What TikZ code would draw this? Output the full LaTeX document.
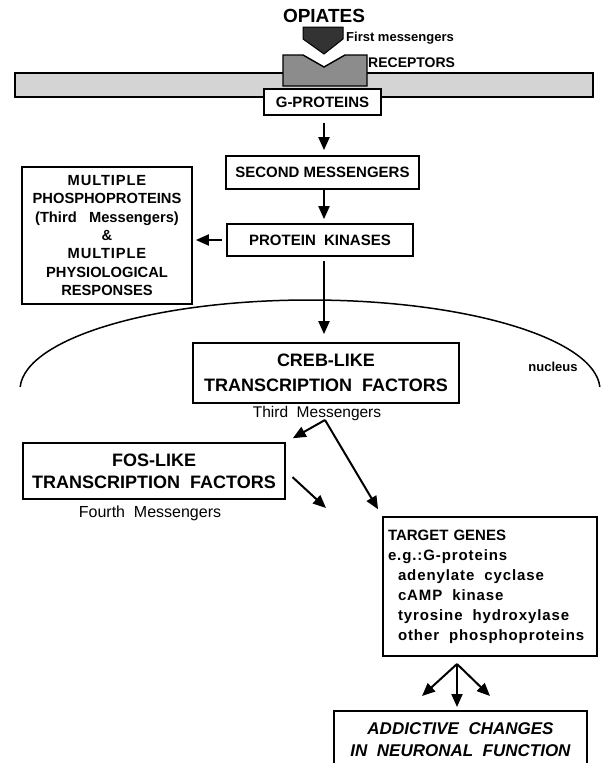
\documentclass[tikz,border=0pt]{standalone}
\usepackage{fontspec}
\setmainfont{Liberation Sans}
\newfontfamily\spc[LetterSpace=6]{Liberation Sans}
\usetikzlibrary{arrows.meta}
\begin{document}
\begin{tikzpicture}[x=1pt,y=-1pt,
  box/.style={draw, line width=1.7pt, fill=white, inner sep=0pt, align=center},
  arr/.style={line width=2pt, -{Triangle[length=13pt,width=11pt]}},
  bf15/.style={font=\bfseries\fontsize{15}{18}\selectfont},
  big/.style={font=\bfseries\fontsize{18}{25}\selectfont},
  lbl/.style={inner sep=0pt, font=\fontsize{15.5}{18}\selectfont}
  ]
\useasboundingbox (0,0) rectangle (604,763);
% membrane and receptor
\path[draw, line width=1.4pt, fill=black!17] (15,73) rectangle (593,97);
\path[draw, line width=1.4pt, fill=black!45] (283,55) -- (303,55) -- (324,67) -- (345,55) -- (367,55) -- (367,86) -- (283,86) -- cycle;
\path[draw, line width=1pt, fill=black!80] (303,27) -- (343,27) -- (343,39) -- (324,54) -- (303,39) -- cycle;
\node[inner sep=0pt, font=\bfseries\fontsize{19}{22}\selectfont] (opiates) at (324,16) {OPIATES};
\node[inner sep=0pt, anchor=west, font=\bfseries\fontsize{13}{14}\selectfont] (first) at (346,38) {First messengers};
\node[inner sep=0pt, anchor=west, font=\bfseries\fontsize{14}{14}\selectfont] (recep) at (368,63) {RECEPTORS};

\coordinate (col) at (324,0);
\node[box, bf15, minimum width=117, minimum height=26] (g) at (322.5,102) {G-PROTEINS};
\node[box, bf15, minimum width=193, minimum height=33] (sm) at (322.5,172.5) {SECOND MESSENGERS};
\node[box, bf15, minimum width=186, minimum height=32] (pk) at (320,240) {PROTEIN\ \ KINASES};
\node[box, font=\bfseries\fontsize{14.7}{18.3}\selectfont, minimum width=170, minimum height=137] (multi) at (107,235.5)
  {{\spc MULTIPLE}\\PHOSPHOPROTEINS\\(Third\ \ \ Messengers)\\\&\\{\spc MULTIPLE}\\PHYSIOLOGICAL\\RESPONSES};

\draw[arr, shorten <=7pt, shorten >=5pt] (g.south -| col) -- (sm.north -| col);
\draw[arr, shorten >=4pt] (sm.south -| col) -- (pk.north -| col);
\draw[arr, shorten <=4pt, shorten >=3pt] (pk.west) -- (multi.east |- pk.west);

% nucleus
\draw[line width=1.5pt] (310,390) ++(178:290 and -90) arc[start angle=178, end angle=2, x radius=290, y radius=-90];
\node[inner sep=0pt, font=\bfseries\fontsize{13}{14}\selectfont] (nuc) at (553,367) {nucleus};

\node[box, big, minimum width=266, minimum height=60] (creb) at (326,373) {CREB-LIKE\\TRANSCRIPTION\ \ FACTORS};
\draw[arr, shorten <=4pt, shorten >=8pt] (pk.south -| col) -- (creb.north -| col);
\node[lbl] (third) at (317,413) {Third\ \ Messengers};

\node[box, font=\bfseries\fontsize{18}{22}\selectfont, minimum width=262, minimum height=56] (fos) at (154,471) {FOS-LIKE\\TRANSCRIPTION\ \ FACTORS};
\node[lbl, font=\fontsize{16}{18}\selectfont] (fourth) at (150,513) {Fourth\ \ Messengers};

\node[box, align=left, inner xsep=5pt, text width=204, minimum height=139, font=\bfseries\fontsize{15}{20}\selectfont] (target) at (490,586.5)
  {TARGET GENES\\{\spc e.g.:G-proteins}\\{\spc\hspace*{10pt}adenylate\ \ cyclase}\\{\spc\hspace*{10pt}cAMP\ \ kinase}\\{\spc\hspace*{10pt}tyrosine\ \ hydroxylase}\\{\spc\hspace*{10pt}other\ \ phosphoproteins}};

\node[box, font=\bfseries\itshape\fontsize{17}{22}\selectfont, minimum width=253, minimum height=58, anchor=north] (add) at (460.5,710)
  {ADDICTIVE\ \ CHANGES\\IN\ \ NEURONAL\ \ FUNCTION};

\coordinate (br) at (325,420);
\coordinate (fostip) at (326,508);
\draw[arr, shorten >=8pt] (br) -- (fos.north east);
\draw[arr, shorten >=8pt] (br) -- (target.north west);
\draw[arr, shorten <=9pt] (fos.east) -- (fostip);

\coordinate (split) at (457,664);
\coordinate (tl) at (422,696);
\coordinate (tr) at (490,696);
\draw[arr] (split) -- (tl);
\draw[arr] (split) -- (tr);
\draw[arr, shorten >=3pt] (split) -- (add.north -| split);
\end{tikzpicture}
\end{document}
